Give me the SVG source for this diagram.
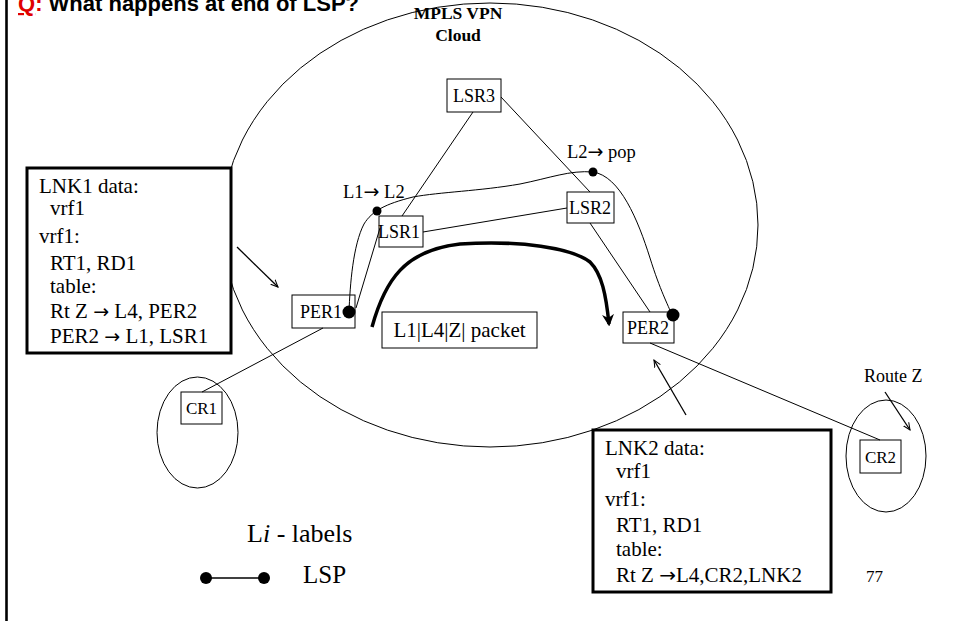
<svg xmlns="http://www.w3.org/2000/svg" width="954" height="621" viewBox="0 0 954 621">
  <defs>
    <style>
      .t { font-family: "Liberation Serif", "Times New Roman", serif; fill: #000; }
      .arr { font-family: "DejaVu Sans", sans-serif; }
      .node { fill: #fff; stroke: #000; stroke-width: 1; }
      .info { fill: #fff; stroke: #000; stroke-width: 3; }
      .link { stroke: #000; stroke-width: 1; fill: none; }
      .pointer { stroke: #000; stroke-width: 1.3; fill: none; marker-end: url(#vhead); }
    </style>
    <marker id="vhead" viewBox="0 0 10 10" refX="9" refY="5" markerWidth="8" markerHeight="8" orient="auto" markerUnits="userSpaceOnUse">
      <path d="M0,1 L9,5 L0,9" fill="none" stroke="#000" stroke-width="1.3"/>
    </marker>
    <marker id="bighead" viewBox="0 0 10 10" refX="8" refY="5" markerWidth="12" markerHeight="12" orient="auto" markerUnits="userSpaceOnUse">
      <path d="M0,0 L10,5 L0,10 L3,5 Z" fill="#000"/>
    </marker>
  </defs>

  <rect width="954" height="621" fill="#fff"/>

  <!-- slide edge rule -->
  <line x1="6.5" y1="0" x2="6.5" y2="621" stroke="#000" stroke-width="2.6"/>

  <!-- question title -->
  <text x="18" y="11" font-family="'Liberation Sans', Arial, sans-serif" font-weight="bold" font-size="22"><tspan fill="#e00000" text-decoration="underline">Q</tspan><tspan fill="#e00000">:</tspan> What happens at end of LSP?</text>

  <!-- provider cloud and customer sites -->
  <g id="cloud">
    <ellipse cx="490" cy="225" rx="268" ry="222" fill="none" stroke="#000" stroke-width="1"/>
    <text class="t" x="458" y="19" font-size="17.5" font-weight="bold" text-anchor="middle">MPLS VPN</text>
    <text class="t" x="458" y="41" font-size="17.5" font-weight="bold" text-anchor="middle">Cloud</text>
  </g>
  <g id="site1">
    <ellipse cx="197.5" cy="432.5" rx="40.5" ry="55.5" fill="none" stroke="#000" stroke-width="1"/>
  </g>
  <g id="site2">
    <ellipse cx="886" cy="456" rx="40" ry="56" fill="none" stroke="#000" stroke-width="1"/>
  </g>

  <!-- routers -->
  <g id="LSR3">
    <rect class="node" x="447" y="79" width="54" height="33"/>
    <text class="t" x="474" y="102" font-size="18" text-anchor="middle">LSR3</text>
  </g>
  <g id="LSR1">
    <rect class="node" x="379" y="216" width="44" height="31"/>
    <text class="t" x="399" y="238" font-size="18" text-anchor="middle">LSR1</text>
  </g>
  <g id="LSR2">
    <rect class="node" x="567" y="192" width="47" height="31"/>
    <text class="t" x="590" y="214" font-size="18" text-anchor="middle">LSR2</text>
  </g>
  <g id="PER1">
    <rect class="node" x="292" y="295" width="63" height="33"/>
    <text class="t" x="300" y="318" font-size="18">PER1</text>
  </g>
  <g id="PER2">
    <rect class="node" x="623" y="312" width="51" height="31"/>
    <text class="t" x="627" y="334" font-size="18">PER2</text>
  </g>
  <g id="CR1">
    <rect class="node" x="181" y="392" width="41" height="32"/>
    <text class="t" x="201.5" y="414" font-size="17" text-anchor="middle">CR1</text>
  </g>
  <g id="CR2">
    <rect class="node" x="860" y="440" width="41" height="33"/>
    <text class="t" x="880.5" y="463" font-size="17" text-anchor="middle">CR2</text>
  </g>

  <g id="packet">
    <rect class="node" x="382" y="312" width="155" height="36"/>
    <text class="t" x="459.5" y="337" font-size="21" text-anchor="middle">L1|L4|Z| packet</text>
  </g>

  <!-- physical links, LSP and pointers -->
  <g id="connectors">
    <line class="link" x1="473" y1="112" x2="402" y2="216"/>
    <line class="link" x1="501" y1="97" x2="590" y2="192"/>
    <line class="link" x1="423" y1="232" x2="567" y2="208"/>
    <line class="link" x1="590" y1="223" x2="650" y2="312"/>
    <line class="link" x1="380" y1="228" x2="356" y2="308"/>
    <line class="link" x1="323" y1="328" x2="202" y2="392"/>
    <line class="link" x1="650" y1="343" x2="880" y2="440"/>

    <!-- label switched path PER1 -> LSR1 -> LSR2 -> PER2 -->
    <path class="link" stroke-width="1.5" d="M349,312 C350,285 353,245 364,224 C372,211 385,204 413,197 C440,192 480,191 520,184 C550,178 570,170 593,172 C620,176 638,220 650,258 C660,290 668,305 672,315"/>
    <circle cx="349" cy="312" r="6.5" fill="#000"/>
    <circle cx="377" cy="211" r="4.5" fill="#000"/>
    <circle cx="593" cy="172" r="4.5" fill="#000"/>
    <circle cx="673" cy="315" r="6.5" fill="#000"/>

    <!-- packet path -->
    <path d="M372,327 C385,280 405,250 460,244 C520,240 572,248 590,262 C602,274 606,295 609,324" fill="none" stroke="#000" stroke-width="3.5" marker-end="url(#bighead)"/>

    <!-- pointers -->
    <line class="pointer" x1="237" y1="247" x2="278" y2="287"/>
    <line class="pointer" x1="686" y1="415" x2="654" y2="360"/>
    <line class="pointer" x1="885" y1="392" x2="910" y2="430"/>
  </g>

  <!-- label operations -->
  <g id="swap-label">
    <text class="t" x="343" y="198" font-size="18.5">L1<tspan class="arr" font-size="19">→</tspan> L2</text>
  </g>
  <g id="pop-label">
    <text class="t" x="567" y="158" font-size="18.5">L2<tspan class="arr" font-size="19">→</tspan> pop</text>
  </g>
  <g id="route-label">
    <text class="t" x="864" y="382" font-size="18">Route Z</text>
  </g>

  <!-- attachment circuit data -->
  <g id="LNK1">
    <rect class="info" x="27" y="168" width="204" height="185"/>
    <g class="t" font-size="21">
      <text x="39" y="193">LNK1 data:</text>
      <text x="50" y="215">vrf1</text>
      <text x="39" y="243">vrf1:</text>
      <text x="50" y="270">RT1, RD1</text>
      <text x="50" y="293">table:</text>
      <text x="50" y="318">Rt Z <tspan class="arr" font-size="19">→</tspan> L4, PER2</text>
      <text x="50" y="343">PER2 <tspan class="arr" font-size="19">→</tspan> L1, LSR1</text>
    </g>
  </g>
  <g id="LNK2">
    <rect class="info" x="593" y="430" width="238" height="162"/>
    <g class="t" font-size="21">
      <text x="605" y="455">LNK2 data:</text>
      <text x="616" y="478">vrf1</text>
      <text x="605" y="506">vrf1:</text>
      <text x="616" y="532">RT1, RD1</text>
      <text x="616" y="556">table:</text>
      <text x="616" y="582">Rt Z <tspan class="arr" font-size="20">→</tspan>L4,CR2,LNK2</text>
    </g>
  </g>

  <!-- legend -->
  <g id="legend">
    <text class="t" x="247" y="542" font-size="26">L<tspan font-style="italic">i</tspan> - labels</text>
    <line x1="206" y1="578" x2="264" y2="578" stroke="#000" stroke-width="1.3"/>
    <circle cx="206" cy="578" r="6" fill="#000"/>
    <circle cx="264" cy="578" r="6" fill="#000"/>
    <text class="t" x="303" y="583" font-size="25">LSP</text>
  </g>

  <text class="t" x="866" y="582" font-size="17">77</text>
</svg>
